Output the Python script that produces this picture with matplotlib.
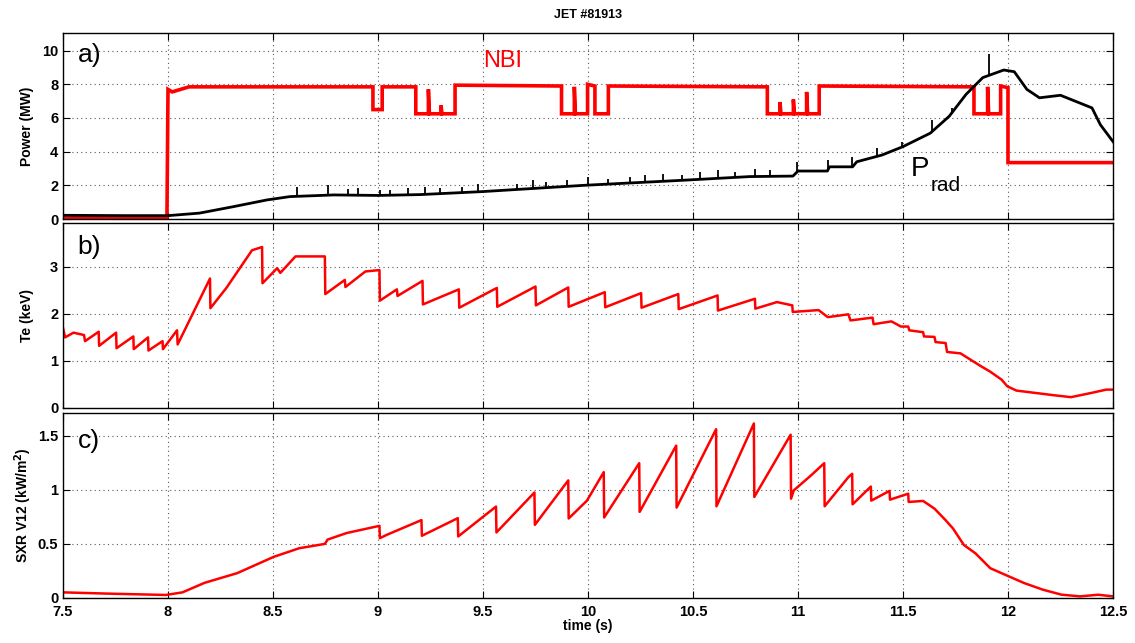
import numpy as np
import matplotlib
matplotlib.use("Agg")
import matplotlib.pyplot as plt

plt.rcParams['font.family'] = ['Liberation Sans', 'DejaVu Sans']

# ---- panel a: NBI power (MW), step trace
nbi_t = [7.5, 7.995, 8.0, 8.02, 8.1, 8.976, 8.976, 9.02, 9.02, 9.18, 9.18, 9.24, 9.24, 9.245,
         9.30, 9.30, 9.305, 9.367, 9.367, 9.874, 9.874, 9.935, 9.935, 9.94, 9.998, 9.998,
         10.033, 10.033, 10.097, 10.097, 10.854, 10.854, 10.914, 10.914, 10.919, 10.978,
         10.978, 10.983, 11.041, 11.041, 11.046, 11.101, 11.101, 11.838, 11.838, 11.903,
         11.903, 11.908, 11.965, 11.965, 12.0, 12.0, 12.5]
nbi_p = [0.05, 0.05, 7.7, 7.55, 7.85, 7.85, 6.5, 6.5, 7.85, 7.85, 6.25, 6.25, 7.7, 6.25,
         6.25, 6.75, 6.25, 6.25, 7.95, 7.9, 6.25, 6.25, 7.85, 6.25, 6.25, 8.0,
         7.9, 6.25, 6.25, 7.9, 7.85, 6.25, 6.25, 6.95, 6.25, 6.25,
         7.1, 6.25, 6.25, 7.55, 6.25, 6.25, 7.9, 7.85, 6.25, 6.25,
         7.85, 6.25, 6.25, 7.9, 7.8, 3.35, 3.35]

# ---- panel a: radiated power (MW)
prad_t = [7.5, 7.8, 8.0, 8.15, 8.31, 8.47, 8.58, 8.79, 9.0, 9.2, 9.5, 9.98, 10.45, 10.77,
          10.976, 11.0, 11.14, 11.15, 11.26, 11.28, 11.4, 11.5, 11.63, 11.72, 11.8, 11.88,
          11.98, 12.03, 12.09, 12.15, 12.25, 12.36, 12.40, 12.44, 12.5]
prad_p = [0.22, 0.2, 0.2, 0.35, 0.73, 1.13, 1.33, 1.43, 1.4, 1.45, 1.63, 2.0, 2.3, 2.52,
          2.55, 2.85, 2.85, 3.1, 3.1, 3.4, 3.8, 4.3, 5.1, 6.1, 7.4, 8.4,
          8.85, 8.75, 7.7, 7.2, 7.35, 6.8, 6.6, 5.6, 4.6]
spike_t = [8.613, 8.763, 8.859, 8.906, 9.01, 9.057, 9.144, 9.224, 9.295, 9.398, 9.478, 9.66,
           9.74, 9.80, 9.898, 10.001, 10.097, 10.2, 10.271, 10.359, 10.446, 10.533, 10.62,
           10.7, 10.795, 10.867, 10.994, 11.144, 11.255, 11.375, 11.494, 11.637, 11.732, 11.91]
spike_top = [1.9, 2.0, 1.8, 1.85, 1.75, 1.7, 1.85, 1.9, 1.85, 1.9, 2.1, 2.1,
             2.3, 2.2, 2.3, 2.5, 2.4, 2.5, 2.6, 2.7, 2.6, 2.8, 2.9,
             2.8, 3.0, 2.9, 3.4, 3.5, 3.7, 4.2, 4.6, 5.9, 6.6, 9.8]

# ---- panel b: Te (keV)
te_t = [7.5, 7.51, 7.55, 7.6, 7.605, 7.67, 7.672, 7.753, 7.755, 7.835, 7.837, 7.905, 7.907,
        7.974, 7.976, 8.043, 8.046, 8.2, 8.202, 8.278, 8.4, 8.448, 8.45, 8.52, 8.535, 8.607,
        8.747, 8.749, 8.842, 8.845, 8.94, 9.007, 9.009, 9.09, 9.093, 9.212, 9.214, 9.385,
        9.387, 9.566, 9.568, 9.75, 9.752, 9.906, 9.908, 10.08, 10.082, 10.253, 10.255,
        10.43, 10.432, 10.617, 10.619, 10.795, 10.797, 10.9, 10.973, 10.975, 11.098, 11.142,
        11.24, 11.25, 11.355, 11.36, 11.445, 11.49, 11.525, 11.53, 11.596, 11.60, 11.65,
        11.655, 11.703, 11.71, 11.774, 11.863, 11.916, 11.97, 11.997, 12.04, 12.13, 12.22,
        12.30, 12.397, 12.468, 12.5]
te_v = [1.70, 1.5, 1.6, 1.55, 1.42, 1.62, 1.32, 1.6, 1.27, 1.52, 1.25, 1.5, 1.22,
        1.42, 1.25, 1.65, 1.35, 2.75, 2.12, 2.55, 3.35, 3.42, 2.65, 2.97, 2.87, 3.22,
        3.22, 2.42, 2.72, 2.57, 2.9, 2.93, 2.28, 2.52, 2.38, 2.70, 2.2, 2.52,
        2.13, 2.55, 2.15, 2.58, 2.18, 2.56, 2.15, 2.46, 2.14, 2.44, 2.13,
        2.42, 2.10, 2.39, 2.07, 2.32, 2.11, 2.25, 2.18, 2.04, 2.08, 1.93,
        1.99, 1.86, 1.92, 1.78, 1.84, 1.73, 1.73, 1.65, 1.61, 1.52, 1.51,
        1.40, 1.38, 1.19, 1.16, 0.91, 0.77, 0.60, 0.46, 0.37, 0.32, 0.27,
        0.23, 0.32, 0.39, 0.39]

# ---- panel c: SXR V12 (kW/m^2)
sxr_t = [7.5, 7.722, 7.99, 8.069, 8.174, 8.33, 8.503, 8.625, 8.747, 8.76, 8.85, 9.007, 9.009,
         9.042, 9.207, 9.209, 9.38, 9.382, 9.562, 9.564, 9.745, 9.747, 9.906, 9.908, 9.995,
         10.075, 10.077, 10.244, 10.246, 10.42, 10.422, 10.61, 10.612, 10.79, 10.792, 10.965,
         10.967, 10.98, 11.062, 11.125, 11.127, 11.24, 11.258, 11.26, 11.347, 11.349, 11.436,
         11.438, 11.525, 11.527, 11.596, 11.65, 11.703, 11.738, 11.79, 11.845, 11.916, 12.005,
         12.077, 12.166, 12.254, 12.343, 12.43, 12.5]
sxr_v = [0.052, 0.04, 0.028, 0.052, 0.14, 0.23, 0.38, 0.46, 0.50, 0.54, 0.60, 0.667, 0.553,
         0.584, 0.72, 0.575, 0.738, 0.569, 0.845, 0.606, 0.975, 0.676, 1.087, 0.735, 0.90,
         1.163, 0.744, 1.246, 0.796, 1.408, 0.836, 1.56, 0.848, 1.613, 0.934, 1.509,
         0.918, 0.995, 1.133, 1.246, 0.848, 1.117, 1.148, 0.866, 1.03, 0.90, 0.99,
         0.909, 0.964, 0.888, 0.897, 0.826, 0.719, 0.643, 0.49, 0.413, 0.275, 0.199,
         0.138, 0.077, 0.031, 0.015, 0.03, 0.015]

xticks = [7.5, 8, 8.5, 9, 9.5, 10, 10.5, 11, 11.5, 12, 12.5]
xticklabels = ['7.5', '8', '8.5', '9', '9.5', '10', '10.5', '11', '11.5', '12', '12.5']

fig = plt.figure(figsize=(11.35, 6.43), dpi=100)
ax_a = fig.add_axes([0.0555, 0.6594, 0.9251, 0.2893])
ax_b = fig.add_axes([0.0555, 0.3655, 0.9251, 0.2877])
ax_c = fig.add_axes([0.0555, 0.0700, 0.9251, 0.2877])

red = '#ff0000'

ax_a.plot(nbi_t, nbi_p, color=red, lw=2.6, solid_joinstyle='miter')
ax_a.plot(prad_t, prad_p, color='black', lw=2.0)
base = np.interp(spike_t, prad_t, prad_p)
ax_a.vlines(spike_t, base, spike_top, color='black', lw=1.3)
ax_a.set_ylim(0, 11.05)
ax_a.set_yticks([0, 2, 4, 6, 8, 10])
ax_a.set_ylabel('Power (MW)', fontweight='bold', fontsize=10)
ax_a.set_title('JET #81913', fontweight='bold', fontsize=9, pad=11)
ax_a.text(0.014, 0.88, 'a)', transform=ax_a.transAxes, fontsize=19, va='center')
ax_a.text(9.5, 9.4, 'NBI', color=red, fontsize=17, ha='left', va='center')
ax_a.text(11.535, 3.0, 'P', fontsize=20, va='center')
ax_a.text(11.63, 2.0, 'rad', fontsize=15, va='center')

ax_b.plot(te_t, te_v, color=red, lw=1.8)
ax_b.set_ylim(0, 3.93)
ax_b.set_yticks([0, 1, 2, 3])
ax_b.set_ylabel('Te (keV)', fontweight='bold', fontsize=10)
ax_b.text(0.014, 0.87, 'b)', transform=ax_b.transAxes, fontsize=19, va='center')

ax_c.plot(sxr_t, sxr_v, color=red, lw=1.8)
ax_c.set_ylim(0, 1.71)
ax_c.set_yticks([0, 0.5, 1, 1.5])
ax_c.set_yticklabels(['0', '0.5', '1', '1.5'])
ax_c.set_ylabel('SXR V12 (kW/m$^\\mathbf{2}$)', fontweight='bold', fontsize=10)
ax_c.text(0.014, 0.85, 'c)', transform=ax_c.transAxes, fontsize=19, va='center')
ax_c.set_xlabel('time (s)', fontweight='bold', fontsize=10, labelpad=0)

for ax in (ax_a, ax_b, ax_c):
    ax.set_xlim(7.5, 12.5)
    ax.set_xticks(xticks)
    ax.grid(True, linestyle=(0, (1, 3)), color='0.35', lw=0.8)
    ax.tick_params(direction='in', top=True, right=True, length=5, width=0.8,
                   labelsize=10.5)
    ax.tick_params(axis='x', pad=5)
    for lab in ax.get_yticklabels() + ax.get_xticklabels():
        lab.set_fontweight('bold')
    for s in ax.spines.values():
        s.set_linewidth(1.0)
    ax.yaxis.set_label_coords(-0.028, 0.5)

ax_a.set_xticklabels([])
ax_b.set_xticklabels([])
ax_c.set_xticklabels(xticklabels, fontweight='bold')

fig.savefig('out.png', dpi=100)
